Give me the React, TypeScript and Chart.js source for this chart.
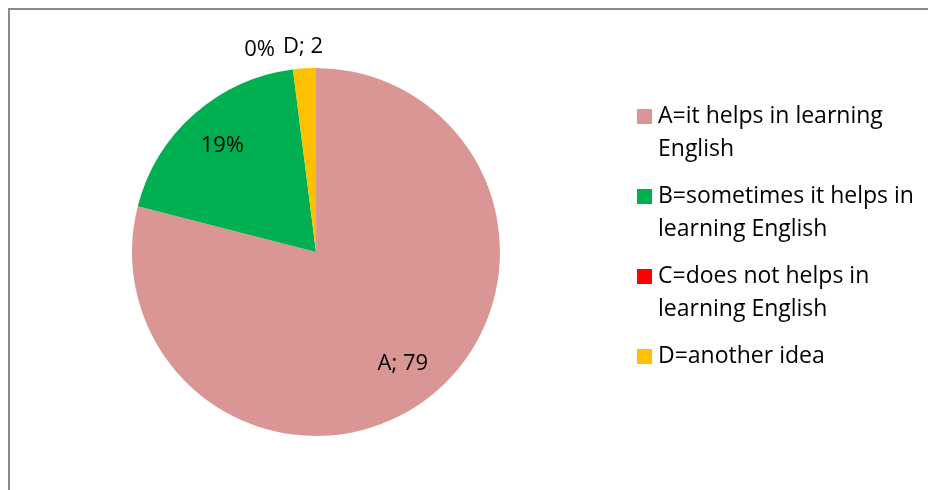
import React, { useEffect, useRef } from "react";
import { Chart, registerables } from "chart.js";

Chart.register(...registerables);

const categories = [
  "A=it helps in learning\nEnglish",
  "B=sometimes it helps in\nlearning English",
  "C=does not helps in\nlearning English",
  "D=another idea",
];
const values = [79, 19, 0, 2];
const dataLabels = ["A; 79", "19%", "0%", "D; 2"];
const colors = ["#D99694", "#00B050", "#FF0000", "#FFC000"];

const FONT = "'Open Sans', sans-serif";

const framePlugin = {
  id: "frame",
  beforeDraw(chart: any) {
    const { ctx, width, height } = chart;
    ctx.save();
    ctx.strokeStyle = "#8a8a8a";
    ctx.lineWidth = 2;
    ctx.beginPath();
    ctx.moveTo(1, height);
    ctx.lineTo(1, 1);
    ctx.lineTo(width, 1);
    ctx.stroke();
    ctx.restore();
  },
};

const labelsPlugin = {
  id: "sliceLabels",
  afterDatasetsDraw(chart: any) {
    const { ctx } = chart;
    const meta = chart.getDatasetMeta(0);
    ctx.save();
    ctx.font = `22px ${FONT}`;
    ctx.fillStyle = "#000";
    ctx.textBaseline = "middle";
    const pos: { x: number; y: number; w: number }[] = [];
    const total = values.reduce((a, b) => a + b, 0);
    meta.data.forEach((arc: any, i: number) => {
      const { x, y, startAngle, endAngle, outerRadius } = arc.getProps(
        ["x", "y", "startAngle", "endAngle", "outerRadius"],
        true
      );
      const mid = (startAngle + endAngle) / 2;
      const share = values[i] / total;
      const f = share > 0.1 ? 0.77 : 1.12;
      pos[i] = {
        x: x + Math.cos(mid) * outerRadius * f,
        y: y + Math.sin(mid) * outerRadius * f,
        w: ctx.measureText(dataLabels[i]).width,
      };
    });
    meta.data.forEach((arc: any, i: number) => {
      const share = values[i] / total;
      if (share > 0.1 || values[i] > 0) {
        ctx.textAlign = "center";
        ctx.fillText(dataLabels[i], pos[i].x, pos[i].y);
      } else {
        // zero-value slice: put label to the left of the next outside label
        const nxt = pos[i + 1] || pos[i];
        ctx.textAlign = "right";
        ctx.fillText(dataLabels[i], nxt.x - nxt.w / 2 - 8, nxt.y + 3);
      }
    });
    ctx.restore();
  },
};

const legendPlugin = {
  id: "wrapLegend",
  afterDraw(chart: any) {
    const { ctx } = chart;
    ctx.save();
    ctx.font = `23px ${FONT}`;
    ctx.textBaseline = "middle";
    ctx.textAlign = "left";
    const boxX = 629;
    const textX = 650;
    let y = 108;
    const lineH = 33;
    const gap = 14;
    categories.forEach((c, i) => {
      const lines = c.split("\n");
      ctx.fillStyle = colors[i];
      ctx.fillRect(boxX, y - 7, 15, 15);
      ctx.fillStyle = "#000";
      lines.forEach((ln, j) => ctx.fillText(ln, textX, y + j * lineH));
      y += lines.length * lineH + gap;
    });
    ctx.restore();
  },
};

export default function App() {
  const ref = useRef<HTMLCanvasElement>(null);
  useEffect(() => {
    if (!ref.current) return;
    const chart = new Chart(ref.current, {
      type: "pie",
      data: {
        labels: categories.map((c) => c.replace("\n", " ")),
        datasets: [
          {
            data: values,
            backgroundColor: colors,
            borderWidth: 0,
            hoverOffset: 0,
          },
        ],
      },
      options: {
        animation: false,
        responsive: true,
        maintainAspectRatio: false,
        layout: { padding: { left: 124, right: 428, top: 60, bottom: 54 } },
        plugins: {
          legend: { display: false },
          tooltip: { enabled: false },
        },
      },
      plugins: [framePlugin, labelsPlugin, legendPlugin],
    });
    return () => chart.destroy();
  }, []);
  return (
    <div style={{ position: "fixed", left: 8, top: 8, width: 920, height: 482 }}>
      <canvas ref={ref} />
    </div>
  );
}
